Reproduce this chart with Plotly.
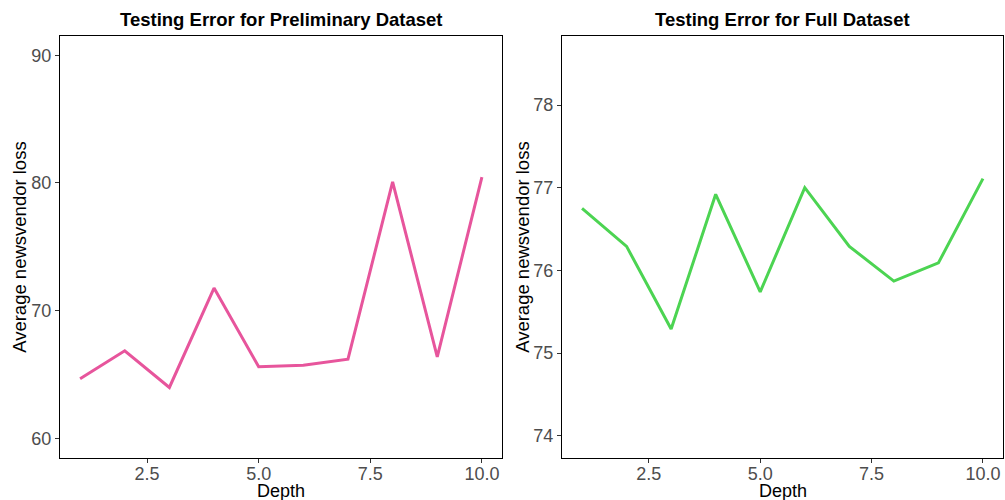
import plotly.graph_objects as go

depth = [1, 2, 3, 4, 5, 6, 7, 8, 9, 10]
prelim_loss = [64.67, 66.85, 63.98, 71.77, 65.6, 65.73, 66.2, 80.08, 66.38, 80.45]
full_loss = [76.75, 76.29, 75.29, 76.92, 75.74, 77.0, 76.29, 75.87, 76.09, 77.11]

x_ticks = [2.5, 5.0, 7.5, 10.0]
x_ticklabels = ["2.5", "5.0", "7.5", "10.0"]
y1_ticks = [60, 70, 80, 90]
y2_ticks = [74, 75, 76, 77, 78]

titles = ["Testing Error for Preliminary Dataset", "Testing Error for Full Dataset"]
x_title = "Depth"
y_title = "Average newsvendor loss"

FONT = "Liberation Sans, Arial, sans-serif"
pink = "#E7559C"
green = "#4CD452"

fig = go.Figure()
fig.add_trace(go.Scatter(x=depth, y=prelim_loss, mode="lines",
                         line=dict(color=pink, width=3), xaxis="x", yaxis="y",
                         showlegend=False))
fig.add_trace(go.Scatter(x=depth, y=full_loss, mode="lines",
                         line=dict(color=green, width=3), xaxis="x2", yaxis="y2",
                         showlegend=False))

W, H = 1005, 500
dom_y = [1 - 457.7 / H, 1 - 36 / H]
dom_x1 = [60 / W, 502 / W]
dom_x2 = [562 / W, 1003 / W]

axis_common = dict(showgrid=False, zeroline=False, showline=True, linecolor="black",
                   linewidth=1.2, mirror=True, ticks="outside", ticklen=4,
                   tickcolor="#333333", tickwidth=1,
                   tickfont=dict(family=FONT, size=18, color="#4D4D4D"))

fig.update_layout(
    width=W, height=H,
    margin=dict(l=0, r=0, t=0, b=0),
    paper_bgcolor="white", plot_bgcolor="white",
    xaxis=dict(domain=dom_x1, range=[0.55, 10.45], tickvals=x_ticks,
               ticktext=x_ticklabels, anchor="y", ticklabelstandoff=-4, **axis_common),
    yaxis=dict(domain=dom_y, range=[58.48, 91.51], tickvals=y1_ticks,
               anchor="x", ticklabelstandoff=0, **axis_common),
    xaxis2=dict(domain=dom_x2, range=[0.55, 10.45], tickvals=x_ticks,
                ticktext=x_ticklabels, anchor="y2", ticklabelstandoff=-4, **axis_common),
    yaxis2=dict(domain=dom_y, range=[73.734, 78.835], tickvals=y2_ticks,
                anchor="x2", ticklabelstandoff=0, **axis_common),
)

annotations = []
for dom, t in [(dom_x1, titles[0]), (dom_x2, titles[1])]:
    cx = (dom[0] + dom[1]) / 2
    annotations.append(dict(text="<b>" + t + "</b>", x=cx, y=1 - 19 / H, xref="paper",
                            yref="paper", showarrow=False, xanchor="center", yanchor="middle",
                            font=dict(family=FONT, size=18.5, color="black")))
    annotations.append(dict(text=x_title, x=cx, y=0, xref="paper", yref="paper",
                            showarrow=False, xanchor="center", yanchor="bottom", yshift=-3,
                            font=dict(family=FONT, size=18, color="black")))
for xpix in [20, 523]:
    annotations.append(dict(text=y_title, x=xpix / W, y=(dom_y[0] + dom_y[1]) / 2,
                            xref="paper", yref="paper", showarrow=False, textangle=-90,
                            xanchor="center", yanchor="middle",
                            font=dict(family=FONT, size=18.5, color="black")))
fig.update_layout(annotations=annotations)

fig.write_html("out.html")
